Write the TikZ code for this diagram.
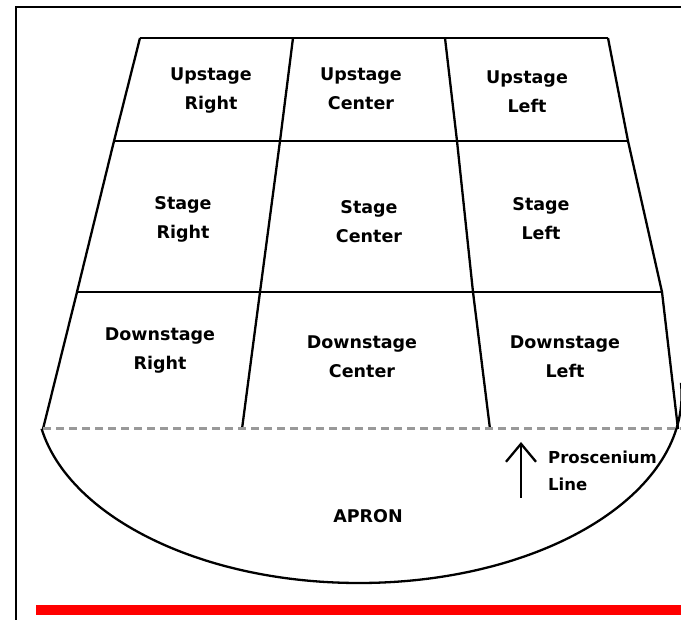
\documentclass[tikz,border=0pt]{standalone}
\usepackage{fontspec}
\setmainfont{DejaVu Sans}
\usetikzlibrary{arrows.meta}

\begin{document}
\begin{tikzpicture}[x=1pt,y=-1pt,
  wall/.style={line width=2.3pt},
  zone/.style={font=\fontsize{17.5}{29}\selectfont\bfseries, align=center, inner sep=0pt},
  proline/.style={gray!80, line width=3pt, dash pattern=on 8pt off 5pt}]
\useasboundingbox (0,0) rectangle (681,620);
%frame
\draw[line width=2.4pt] (16,620) -- (16,7) -- (681,7);
\fill[red] (36,605) rectangle (681,615);

\coordinate (L0) at (140,38);  \coordinate (L1) at (114,141); \coordinate (L2) at (77,292);  \coordinate (L3) at (43,429);
\coordinate (A0) at (293,38);  \coordinate (A1) at (280,141); \coordinate (A2) at (260,292); \coordinate (A3) at (242,429);
\coordinate (B0) at (445,38);  \coordinate (B1) at (457,141); \coordinate (B2) at (473,292); \coordinate (B3) at (490,429);
\coordinate (R0) at (608,38);  \coordinate (R1) at (628,141); \coordinate (R2) at (662,292); \coordinate (R3) at (678,429);
\coordinate (P1) at (681,429);

%apron
\begin{scope}
\clip (0,429) rectangle (681,620) (620,383) rectangle (681,429);
\draw[wall] (359,395) ellipse [x radius=322.6, y radius=188];
\end{scope}

\draw[wall] (L0) -- (L1) -- (L2) -- (L3);
\draw[wall] (R0) -- (R1) -- (R2) -- (R3);
\draw[wall] (A0) -- (A1) -- (A2) -- (A3);
\draw[wall] (B0) -- (B1) -- (B2) -- (B3);
\draw[wall, line width=2.6pt] (L0) -- (R0) (L1) -- (R1) (L2) -- (R2);
\draw[proline] (L3) -- (P1);

\node[zone] (ur) at (211,91) {Upstage\\Right};
\node[zone] (uc) at (361,89) {Upstage\\Center};
\node[zone] (ul) at (527,92) {Upstage\\Left};
\node[zone] (sr) at (183,219) {Stage\\Right};
\node[zone] (sc) at (369,222) {Stage\\Center};
\node[zone] (sl) at (541,219) {Stage\\Left};
\node[zone] (dr) at (160,351) {Downstage\\Right};
\node[zone] (dc) at (362,357) {Downstage\\Center};
\node[zone] (dl) at (565,357) {Downstage\\Left};
\node[zone] (apron) at (368,516) {APRON};
\node[zone, anchor=west, align=left, font=\fontsize{16.5}{27}\selectfont\bfseries] (prosc) at (548,471) {Proscenium\\Line};

\coordinate (foot) at (521,498);
\coordinate (tip) at (521,442);
\draw[line width=2.3pt, -{Straight Barb[length=18pt,width=30pt]}] (foot) -- (tip);
\end{tikzpicture}
\end{document}
